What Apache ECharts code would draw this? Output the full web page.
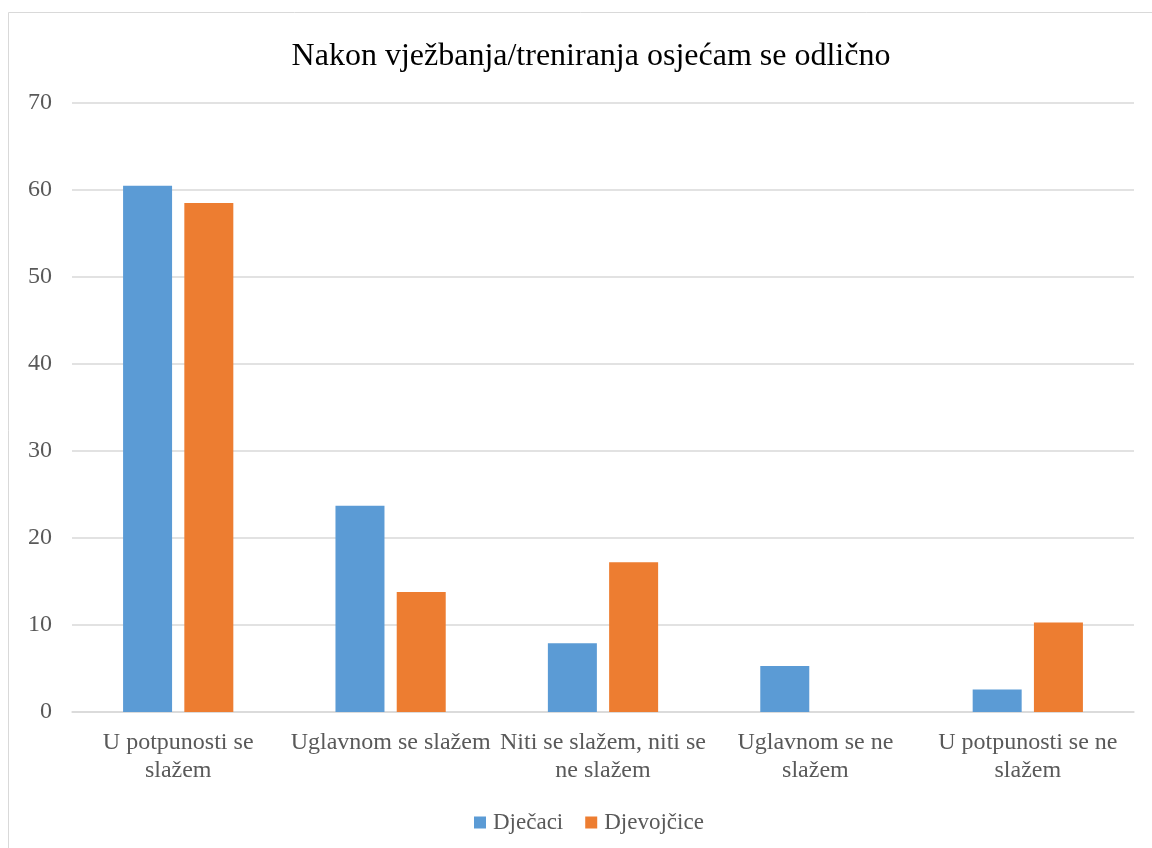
<!DOCTYPE html>
<html>
<head>
<meta charset="utf-8">
<script src="https://cdn.jsdelivr.net/npm/echarts@6/dist/echarts.min.js"></script>
<style>
  html, body { margin: 0; padding: 0; background: #fff; }
  #content { width: 1152px; height: 848px; }
</style>
</head>
<body>
<div id="content"></div>
<script>
  var categories = ['U potpunosti se\nslažem', 'Uglavnom se slažem', 'Niti se slažem, niti se\nne slažem', 'Uglavnom se ne\nslažem', 'U potpunosti se ne\nslažem'];
  var djecaci = [60.5, 23.7, 7.9, 5.3, 2.6];
  var djevojcice = [58.5, 13.8, 17.2, 0, 10.3];

  var chart = echarts.init(document.getElementById('content'));
  var font = '"Liberation Serif", "Times New Roman", serif';
  chart.setOption({
    animation: false,
    textStyle: { fontFamily: font },
    graphic: [{
      type: 'rect',
      shape: { x: 8.5, y: 12.5, width: 1200, height: 900 },
      style: { fill: 'none', stroke: '#d9d9d9', lineWidth: 1 },
      silent: true
    }],
    title: {
      text: 'Nakon vježbanja/treniranja osjećam se odlično',
      left: 586,
      textAlign: 'center',
      top: 36,
      textStyle: { fontFamily: font, fontSize: 32, fontWeight: 'normal', color: '#000' }
    },
    legend: {
      top: 806,
      left: 469,
      itemWidth: 12,
      itemHeight: 12,
      itemGap: 22,
      icon: 'rect',
      textStyle: { fontFamily: font, fontSize: 23, color: '#595959', padding: [0, 0, 0, 2] },
      data: ['Dječaci', 'Djevojčice']
    },
    grid: { left: 72, right: 18, top: 103, bottom: 136, containLabel: false },
    xAxis: {
      type: 'category',
      data: categories,
      axisLine: { lineStyle: { color: '#d9d9d9', width: 1.5 } },
      axisTick: { show: false },
      axisLabel: { interval: 0, fontFamily: font, fontSize: 24, color: '#595959', margin: 17, lineHeight: 28 }
    },
    yAxis: {
      type: 'value',
      min: 0,
      max: 70,
      interval: 10,
      axisLine: { show: false },
      axisTick: { show: false },
      splitLine: { lineStyle: { color: '#d9d9d9', width: 1.5 } },
      axisLabel: { fontFamily: font, fontSize: 24, color: '#595959', margin: 20 }
    },
    series: [{
      name: 'Dječaci',
      type: 'bar',
      data: djecaci,
      barWidth: 49,
      barGap: '25%',
      itemStyle: { color: '#5b9bd5' }
    }, {
      name: 'Djevojčice',
      type: 'bar',
      data: djevojcice,
      barWidth: 49,
      itemStyle: { color: '#ed7d31' }
    }]
  });
</script>
</body>
</html>
